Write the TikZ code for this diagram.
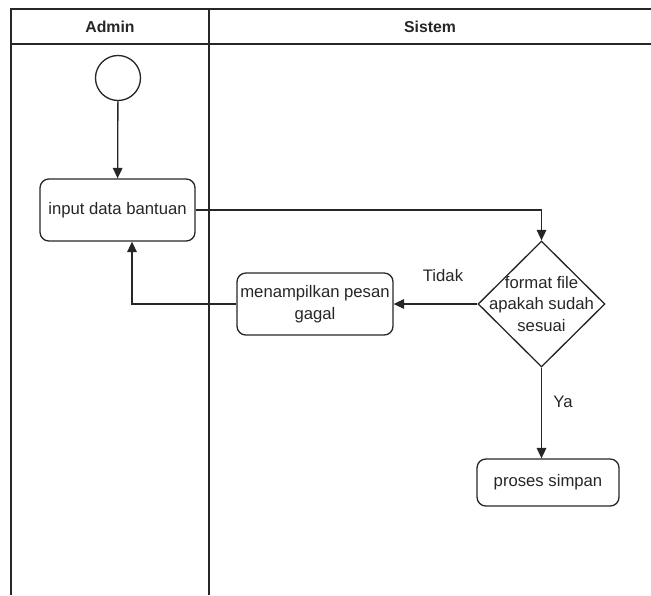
\documentclass[tikz,border=0pt]{standalone}
\usepackage{fontspec}
\setmainfont{Liberation Sans}
\usetikzlibrary{positioning,arrows.meta,shapes.geometric}

\begin{document}
\begin{tikzpicture}[x=0.02cm, y=-0.02cm, line width=0.75pt, color=black!85,
    every node/.style={font=\fontsize{9.5}{12.2}\selectfont},
    lanehead/.style={font=\bfseries\fontsize{9}{11}\selectfont},
    flowbox/.style={draw, rounded corners=5pt, minimum width=3.1cm, minimum height=1.24cm, align=center, inner sep=1pt},
    startnode/.style={draw, circle, minimum size=0.9cm, inner sep=0pt},
    decisionnode/.style={draw, diamond, minimum width=2.54cm, minimum height=2.52cm, inner sep=0pt},
    flow/.style={-{Triangle[width=5.5pt,length=6pt]}}]
    \useasboundingbox (0,0) rectangle (651,595);

    \draw (11,595) -- (11,9) -- (651,9);
    \draw (11,44) -- (651,44);
    \draw (209,9) -- (209,595);
    \node[lanehead] (admin) at (110,27) {Admin};
    \node[lanehead] (sistem) at (430,27) {Sistem};

    \node[startnode] (start) at (118,78) {};
    \node[flowbox] (input) at (117.5,210) {input data bantuan};
    \node[decisionnode, label={[align=center]center:format file\\apakah sudah\\sesuai}] (cek) at (541.5,304) {};
    \node[flowbox, minimum width=3.12cm] (gagal) at (315,304) {menampilkan pesan\\gagal};
    \node[flowbox, minimum width=2.84cm, minimum height=0.94cm] (simpan) at (548,482.5) {proses simpan};
    \node (tidak) at (443,276) {Tidak};
    \node (ya) at (563,402) {Ya};

    \draw[flow] (start) -- (input);
    \draw[flow] (input.east) -| (cek.north);
    \draw[flow] (cek.west) -- (gagal.east);
    \draw[flow] (gagal.west) -| ([xshift=0.29cm]input.south);
    \draw[flow] (cek.south) -- (cek.south |- simpan.north);
\end{tikzpicture}
\end{document}
